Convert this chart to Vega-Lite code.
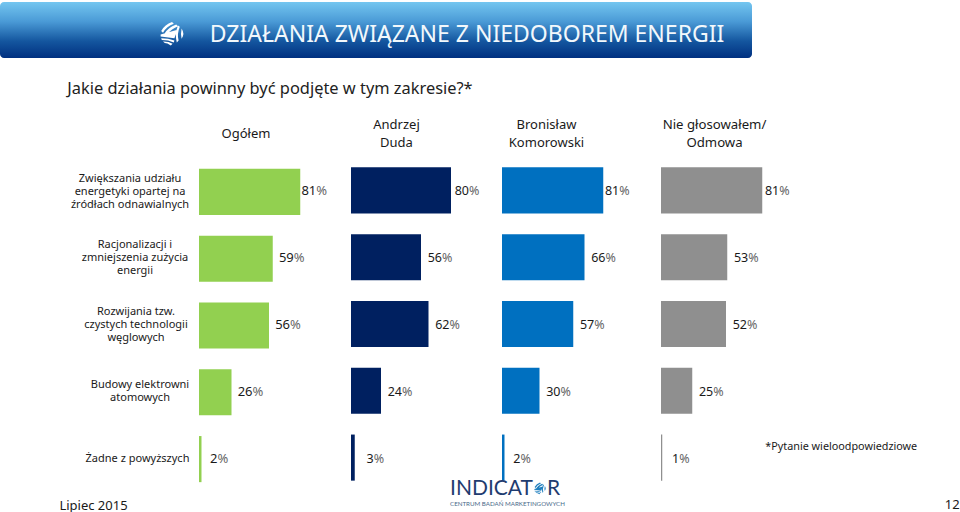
{
"$schema":"https://vega.github.io/schema/vega-lite/v6.json",
"padding":{"left":0,"right":0,"top":2,"bottom":0},
"background":"white",
"spacing":0,
"config":{"view":{"stroke":null},"text":{"font":"Noto Sans","color":"#1a1a1a"}},
"datasets":{
"one":[{"k":1}],
"d":[
{"row":"Zwiększania udziału\nenergetyki opartej na\nźródłach odnawialnych","grupa":"Ogółem","v":81},
{"row":"Racjonalizacji i\nzmniejszenia zużycia\nenergii","grupa":"Ogółem","v":59},
{"row":"Rozwijania tzw.\nczystych technologii\nwęglowych","grupa":"Ogółem","v":56},
{"row":"Budowy elektrowni\natomowych","grupa":"Ogółem","v":26},
{"row":"Żadne z powyższych","grupa":"Ogółem","v":2},
{"row":"Zwiększania udziału\nenergetyki opartej na\nźródłach odnawialnych","grupa":"Duda","v":80},
{"row":"Racjonalizacji i\nzmniejszenia zużycia\nenergii","grupa":"Duda","v":56},
{"row":"Rozwijania tzw.\nczystych technologii\nwęglowych","grupa":"Duda","v":62},
{"row":"Budowy elektrowni\natomowych","grupa":"Duda","v":24},
{"row":"Żadne z powyższych","grupa":"Duda","v":3},
{"row":"Zwiększania udziału\nenergetyki opartej na\nźródłach odnawialnych","grupa":"Komorowski","v":81},
{"row":"Racjonalizacji i\nzmniejszenia zużycia\nenergii","grupa":"Komorowski","v":66},
{"row":"Rozwijania tzw.\nczystych technologii\nwęglowych","grupa":"Komorowski","v":57},
{"row":"Budowy elektrowni\natomowych","grupa":"Komorowski","v":30},
{"row":"Żadne z powyższych","grupa":"Komorowski","v":2},
{"row":"Zwiększania udziału\nenergetyki opartej na\nźródłach odnawialnych","grupa":"Nie","v":81},
{"row":"Racjonalizacji i\nzmniejszenia zużycia\nenergii","grupa":"Nie","v":53},
{"row":"Rozwijania tzw.\nczystych technologii\nwęglowych","grupa":"Nie","v":52},
{"row":"Budowy elektrowni\natomowych","grupa":"Nie","v":25},
{"row":"Żadne z powyższych","grupa":"Nie","v":1}
]},
"vconcat":[
{"width":752,"height":56,"data":{"name":"one"},"layer":[
{"mark":{"type":"rect","cornerRadius":4,"color":{"gradient":"linear","x1":0,"y1":0,"x2":0,"y2":1,"stops":[{"offset":0,"color":"#74C6F0"},{"offset":0.35,"color":"#4A9AD6"},{"offset":0.7,"color":"#14569F"},{"offset":1,"color":"#003080"}]}}},
{"mark":{"type":"text","text":"DZIAŁANIA ZWIĄZANE Z NIEDOBOREM ENERGII","fontSize":23,"color":"#F2F8FC","dx":91,"dy":5}},
{"mark":{"type":"point","filled":true,"fill":"white","opacity":1,"size":576,"xOffset":-204,"yOffset":4,"shape":"M-.9-.25Q-.6-.8 0-1L.15-.85Q-.45-.65-.75-.1ZM-.65 0Q-.35-.55.35-.8L.5-.65Q0-.45-.45.05ZM-.95.05L.45-.35.2.35-.95.2ZM-.9.35Q-.3.35.2.55L.15.7Q-.3.5-.85.5ZM-.75.62Q-.3.6.05.82L-.1.95Q-.4.75-.6.75ZM.65-.6Q.4 0 .55.55L.4.7Q.2 0 .5-.7ZM.8-.45Q.7 0 .8.4L.9.2Q1 0 .9-.25Z"}}
]},
{"width":960,"height":50,"data":{"name":"one"},"mark":{"type":"text","text":"Jakie działania powinny być podjęte w tym zakresie?*","fontSize":16.4,"dx":-210,"dy":6,"color":"#222222"}},
{"hconcat":[
{"width":199,"height":49,"data":{"name":"one"},"mark":{"type":"text","text":""}},
{"width":152,"height":49,"data":{"name":"one"},"mark":{"type":"text","text":"Ogółem","fontSize":13,"dx":-29,"dy":1}},
{"width":151,"height":49,"data":{"name":"one"},"mark":{"type":"text","text":"Andrzej\nDuda","lineBreak":"\n","lineHeight":18,"fontSize":13,"dx":-30,"dy":-8}},
{"width":159,"height":49,"data":{"name":"one"},"mark":{"type":"text","text":"Bronisław\nKomorowski","lineBreak":"\n","lineHeight":18,"fontSize":13,"dx":-35,"dy":-8}},
{"width":299,"height":49,"data":{"name":"one"},"mark":{"type":"text","text":"Nie głosowałem/\nOdmowa","lineBreak":"\n","lineHeight":18,"fontSize":13.2,"dx":-96,"dy":-8}}
],"spacing":0,"bounds":"flush"},
{"hconcat":[
{"width":199,"height":334,"data":{"name":"d"},"transform":[{"filter":"datum.grupa=='Ogółem'"}],
"encoding":{"y":{"field":"row","type":"nominal","sort":null,"axis":null,"scale":{"paddingInner":0.31,"paddingOuter":0.155}}},
"layer":[
{"mark":{"type":"text","lineBreak":"\n","lineHeight":13,"fontSize":11,"dy":{"expr":"indexof(datum.row,'Zwięk')==0?-11:indexof(datum.row,'Budowy')==0?-5.5:indexof(datum.row,'Żadne')==0?1:-12"},"dx":{"expr":"indexof(datum.row,'Zwięk')==0?30.5:indexof(datum.row,'Racj')==0?35.5:indexof(datum.row,'Rozw')==0?36.5:indexof(datum.row,'Budowy')==0?40.5:38"}},"encoding":{"text":{"field":"row"}}},
{"transform":[{"filter":"datum.v==2"}],"mark":{"type":"text","text":"Lipiec 2015","fontSize":13,"dx":-6,"dy":48}}
]},
{"width":152,"height":334,"data":{"name":"d"},"transform":[{"filter":"datum.grupa=='Ogółem'"}],
"encoding":{"y":{"field":"row","type":"nominal","sort":null,"axis":null,"scale":{"paddingInner":0.31,"paddingOuter":0.155}},"x":{"field":"v","type":"quantitative","axis":null,"stack":null,"scale":{"domain":[0,121.6],"nice":false}}},
"layer":[
{"mark":{"type":"bar","color":"#92D050","yOffset":1.5}},
{"mark":{"type":"text","align":"right","fontSize":13,"dy":1,"dx":{"expr":"datum.v>70||datum.v<5?16:21"}},"encoding":{"text":{"field":"v"}}},
{"mark":{"type":"text","align":"left","fontSize":13,"text":"%","color":"#666666","dy":1,"dx":{"expr":"datum.v>70||datum.v<5?16:21"}}}
]},
{"width":151,"height":334,"data":{"name":"d"},"transform":[{"filter":"datum.grupa=='Duda'"}],
"encoding":{"y":{"field":"row","type":"nominal","sort":null,"axis":null,"scale":{"paddingInner":0.31,"paddingOuter":0.155}},"x":{"field":"v","type":"quantitative","axis":null,"stack":null,"scale":{"domain":[0,120.8],"nice":false}}},
"layer":[
{"mark":{"type":"bar","color":"#002060"}},
{"mark":{"type":"text","align":"right","fontSize":12.5,"dy":1,"dx":{"expr":"datum.v>70?18:datum.v<5?19:21"}},"encoding":{"text":{"field":"v"}}},
{"mark":{"type":"text","align":"left","fontSize":12.5,"text":"%","color":"#666666","dy":1,"dx":{"expr":"datum.v>70?18:datum.v<5?19:21"}}}
]},
{"width":159,"height":334,"data":{"name":"d"},"transform":[{"filter":"datum.grupa=='Komorowski'"}],
"encoding":{"y":{"field":"row","type":"nominal","sort":null,"axis":null,"scale":{"paddingInner":0.31,"paddingOuter":0.155}},"x":{"field":"v","type":"quantitative","axis":null,"stack":null,"scale":{"domain":[0,127.2],"nice":false}}},
"layer":[
{"mark":{"type":"bar","color":"#0070C0"}},
{"mark":{"type":"text","align":"right","fontSize":12.5,"dy":1,"dx":{"expr":"datum.v>70||datum.v<5?16:21"}},"encoding":{"text":{"field":"v"}}},
{"mark":{"type":"text","align":"left","fontSize":12.5,"text":"%","color":"#666666","dy":1,"dx":{"expr":"datum.v>70||datum.v<5?16:21"}}},
{"transform":[{"filter":"datum.v==2"}],"mark":{"type":"text","text":"INDICAT","font":"Lato","fontSize":21,"align":"left","dx":-54.5,"dy":31,"color":"#1F3C70"}},
{"transform":[{"filter":"datum.v==2"}],"mark":{"type":"text","text":"R","font":"Lato","fontSize":21,"align":"left","dx":42.5,"dy":31,"color":"#1F3C70"}},
{"transform":[{"filter":"datum.v==2"}],"mark":{"type":"point","filled":true,"fill":"#1F7FBF","opacity":1,"size":144,"xOffset":35.5,"yOffset":31,"shape":"M-.9-.25Q-.6-.8 0-1L.15-.85Q-.45-.65-.75-.1ZM-.65 0Q-.35-.55.35-.8L.5-.65Q0-.45-.45.05ZM-.95.05L.45-.35.2.35-.95.2ZM-.9.35Q-.3.35.2.55L.15.7Q-.3.5-.85.5ZM-.75.62Q-.3.6.05.82L-.1.95Q-.4.75-.6.75ZM.65-.6Q.4 0 .55.55L.4.7Q.2 0 .5-.7ZM.8-.45Q.7 0 .8.4L.9.2Q1 0 .9-.25Z"}},
{"transform":[{"filter":"datum.v==2"}],"mark":{"type":"text","text":"CENTRUM BADAŃ MARKETINGOWYCH","font":"Lato","fontSize":6.2,"align":"left","dx":-54.5,"dy":46,"color":"#4A6A8A"}}
]},
{"width":299,"height":334,"data":{"name":"d"},"transform":[{"filter":"datum.grupa=='Nie'"}],
"encoding":{"y":{"field":"row","type":"nominal","sort":null,"axis":null,"scale":{"paddingInner":0.31,"paddingOuter":0.155}},"x":{"field":"v","type":"quantitative","axis":null,"stack":null,"scale":{"domain":[0,239.2],"nice":false}}},
"layer":[
{"mark":{"type":"bar","color":"#8F8F8F"}},
{"mark":{"type":"text","align":"right","fontSize":12.5,"dy":1,"dx":{"expr":"datum.v>70||datum.v<5?17:21"}},"encoding":{"text":{"field":"v"}}},
{"mark":{"type":"text","align":"left","fontSize":12.5,"text":"%","color":"#666666","dy":1,"dx":{"expr":"datum.v>70||datum.v<5?17:21"}}},
{"transform":[{"filter":"datum.v==1"}],"mark":{"type":"text","text":"*Pytanie wieloodpowiedziowe","fontSize":10.8,"dy":-11,"dx":179}},
{"transform":[{"filter":"datum.v==1"}],"mark":{"type":"text","text":"12","fontSize":13,"dx":290,"dy":47}}
]}
],"spacing":0,"bounds":"flush"}
]
}
